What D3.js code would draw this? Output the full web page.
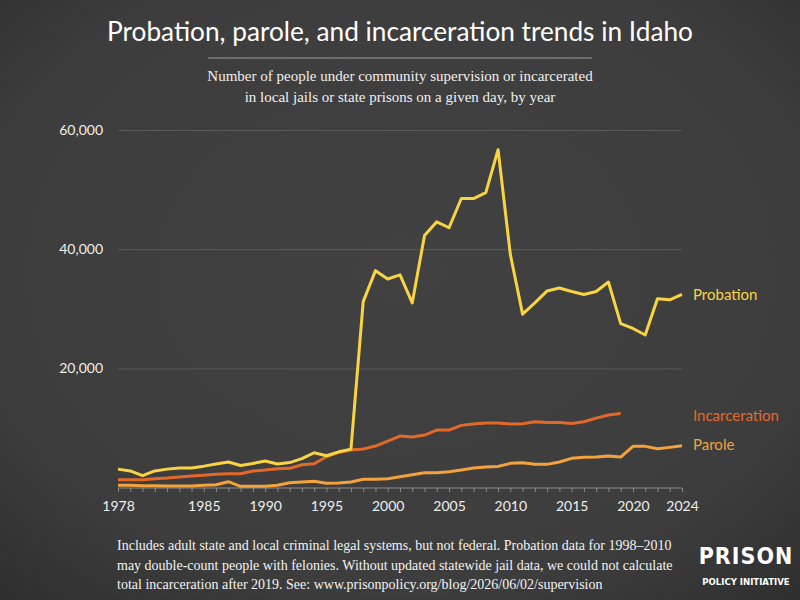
<!DOCTYPE html>
<html><head><meta charset="utf-8">
<script src="https://cdn.jsdelivr.net/npm/d3@7"></script>
<style>
html,body{margin:0;padding:0;background:#3b3b3b;}
svg{display:block;}
</style></head>
<body>
<svg id="chart" width="800" height="600"></svg>
<script>
const years = d3.range(1978, 2025);
const probation = [3100,2800,2000,2800,3100,3300,3300,3600,3950,4300,3700,4050,4450,3950,4200,4850,5850,5350,6000,6450,
  31200,36400,35000,35700,31000,42300,44600,43600,48500,48500,49500,56700,39100,29100,31000,33000,33500,32900,32400,32900,34500,
  27500,26700,25600,31700,31500,32400];
const incarceration = [1330,1330,1330,1500,1600,1780,1950,2060,2230,2330,2330,2780,2950,3170,3230,3840,4010,5180,5900,6300,
  6470,6970,7800,8650,8480,8820,9650,9650,10440,10660,10830,10830,10660,10710,11050,10940,10940,10770,11050,11660,12170,12450];
const parole = [400,390,330,320,270,270,270,380,490,990,220,220,220,380,820,940,1050,720,770,940,
  1390,1390,1500,1830,2160,2500,2500,2670,2950,3280,3450,3560,4070,4180,3900,3900,4290,4910,5080,5130,5300,5130,
  6920,6920,6520,6750,7020];
const yTicks = [20000, 40000, 60000];
const xTickLabels = [1978,1985,1990,1995,2000,2005,2010,2015,2020,2024];
const seriesNames = ["Probation","Incarceration","Parole"];
const seriesColors = ["#f8d444","#e2692a","#f3a23c"];

const svg = d3.select("#chart");
const defs = svg.append("defs");
const rg = defs.append("radialGradient").attr("id","bg").attr("cx","50%").attr("cy","45%").attr("r","75%");
rg.append("stop").attr("offset","0%").attr("stop-color","#414141");
rg.append("stop").attr("offset","70%").attr("stop-color","#3d3d3d");
rg.append("stop").attr("offset","100%").attr("stop-color","#2e2e2e");
svg.append("rect").attr("width",800).attr("height",600).attr("fill","url(#bg)");

const x = d3.scaleLinear().domain([1978, 2024]).range([118, 682]);
const y = d3.scaleLinear().domain([0, 60000]).range([487.6, 130]);

const sans = "Lato, 'Noto Sans', sans-serif";
const serif = "'Liberation Serif', 'DejaVu Serif', serif";

// Title
const title = svg.append("text").attr("x",400).attr("y",41).attr("text-anchor","middle")
  .attr("fill","#ffffff").attr("font-family",sans).attr("font-weight",400).attr("font-size",28)
  .text("Probation, parole, and incarceration trends in Idaho");
const tw = title.node().getComputedTextLength();
title.attr("font-size", 28*586/tw);

svg.append("line").attr("x1",208).attr("x2",592).attr("y1",58).attr("y2",58)
  .attr("stroke","#9a9a9a").attr("stroke-width",1);
svg.append("text").attr("x",400).attr("y",81).attr("text-anchor","middle").attr("fill","#f0f0f0")
  .attr("font-family",serif).attr("font-size",15).text("Number of people under community supervision or incarcerated");
svg.append("text").attr("x",400).attr("y",102).attr("text-anchor","middle").attr("fill","#f0f0f0")
  .attr("font-family",serif).attr("font-size",15).text("in local jails or state prisons on a given day, by year");

// Gridlines + y labels
const yAxis = d3.axisLeft(y).tickValues(yTicks).tickSize(-(682-118)).tickFormat(d3.format(","));
const gy = svg.append("g").attr("transform","translate(118,0)").call(yAxis);
gy.select(".domain").remove();
gy.selectAll(".tick line").attr("stroke","#5a5a5a").attr("stroke-width",1);
gy.selectAll(".tick text").attr("x",-15).attr("fill","#eeeeee").attr("font-family",sans).attr("font-size",14);

// X axis
const xAxis = d3.axisBottom(x).tickValues(years).tickSize(4).tickFormat(d => xTickLabels.includes(d) ? d : "");
const gx = svg.append("g").attr("transform","translate(0,488)").call(xAxis);
gx.select(".domain").attr("stroke","#8a8a8a").attr("d","M118,0H682");
gx.selectAll(".tick line").attr("stroke","#8a8a8a");
gx.selectAll(".tick text").attr("y",13).attr("fill","#eeeeee").attr("font-family",sans).attr("font-size",14);

// Lines
const line = d3.line().x((d,i)=>x(years[i])).y(d=>y(d));
const allSeries = [probation, incarceration, parole];
[parole, incarceration, probation].forEach(s => {
  const idx = allSeries.indexOf(s);
  svg.append("path").datum(s).attr("d", line).attr("fill","none")
    .attr("stroke", seriesColors[idx]).attr("stroke-width",3).attr("stroke-linejoin","round");
});

// Series labels
const labelY = [295, 416, 445];
seriesNames.forEach((n,i) => {
  svg.append("text").attr("x",693).attr("y",labelY[i]).attr("dy","0.35em")
    .attr("fill",seriesColors[i]).attr("font-family",sans).attr("font-size",15).text(n);
});

// Footer
const foot = ["Includes adult state and local criminal legal systems, but not federal. Probation data for 1998–2010",
  "may double-count people with felonies. Without updated statewide jail data, we could not calculate",
  "total incarceration after 2019. See: www.prisonpolicy.org/blog/2026/06/02/supervision"];
foot.forEach((t,i) => {
  svg.append("text").attr("x",117).attr("y",550+i*19.5).attr("fill","#f2f2f2")
    .attr("font-family",serif).attr("font-size",14).text(t);
});
svg.append("text").attr("x",746).attr("y",564).attr("text-anchor","middle").attr("fill","#ffffff")
  .attr("font-family","'DejaVu Sans Condensed','Liberation Sans Narrow',sans-serif").attr("font-weight",700)
  .attr("font-size",23).attr("letter-spacing",1).text("PRISON");
svg.append("text").attr("x",746).attr("y",585).attr("text-anchor","middle").attr("fill","#ffffff")
  .attr("font-family","'DejaVu Sans Condensed','Liberation Sans Narrow',sans-serif").attr("font-weight",700)
  .attr("font-size",9.5).text("POLICY INITIATIVE");
</script>
</body></html>
